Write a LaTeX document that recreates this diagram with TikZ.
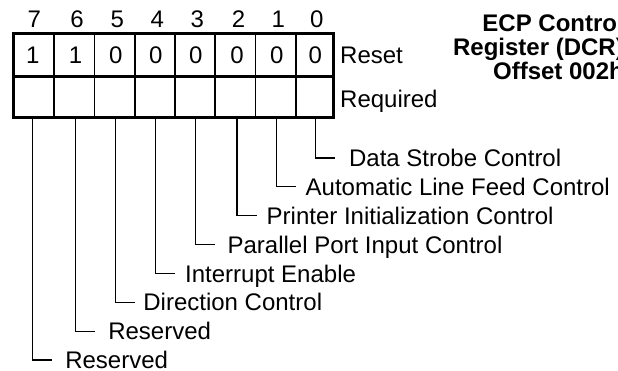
\documentclass[tikz,border=0pt]{standalone}
\usepackage{fontspec}
\setmainfont{Liberation Sans}
\begin{document}
\begin{tikzpicture}[x=1pt,y=-1pt,
  txt/.style={inner sep=0pt, font=\fontsize{24}{24}\selectfont},
  ttl/.style={inner sep=0pt, anchor=base east, font=\fontsize{24}{24}\selectfont\bfseries},
  lbl/.style={txt, anchor=west, text height=17.2pt, text depth=0pt},
  thinline/.style={line width=1.1pt},
  border/.style={line width=3pt}]
\useasboundingbox (0,0) rectangle (618,371);
\clip (0,0) rectangle (618,371);
% register box
\draw[thinline] (54,33.5) -- (54,118) (94.5,33.5) -- (94.5,118) (135,33.5) -- (135,118)
  (175,33.5) -- (175,118) (215,33.5) -- (215,118) (255.5,33.5) -- (255.5,118) (296,33.5) -- (296,118);
\draw[border] (13,33.5) rectangle (333.5,118);
\draw[border] (13,76.5) -- (333.5,76.5);
% bit numbers, reset values, bottom coordinates
\foreach \i/\x/\v in {7/32.7/1,6/75.5/1,5/115.7/0,4/155.7/0,3/195.7/0,2/237/0,1/276.7/0,0/315.3/0}{
  \node[txt, anchor=base] (b\i) at (\x+1.5,27.5) {\i};
  \node[txt, anchor=base] (v\i) at (\x,63.5) {\v};
  \coordinate (c\i) at (\x,118);
}
\node[txt, anchor=base west] (reset) at (340,63.5) {Reset};
\node[txt, anchor=base west] (req) at (340,107.5) {Required};
% title
\node[ttl] (t1) at (624,32) {ECP Control};
\node[ttl] (t2) at (624,56) {Register (DCR)};
\node[ttl] (t3) at (624,80) {Offset 002h};
% field labels and connectors
\foreach \i/\x/\lx/\y/\t in {
  0/315.3/348.9/158/Data Strobe Control,
  1/276.7/305.5/186.9/Automatic Line Feed Control,
  2/237/266.5/215.7/Printer Initialization Control,
  3/195.7/227.4/244.6/Parallel Port Input Control,
  4/155.7/185/273.4/Interrupt Enable,
  5/115.7/143.2/302.3/Direction Control,
  6/75.5/108.1/331.2/Reserved,
  7/32.7/65.1/360/Reserved}{
  \node[lbl] (l\i) at (\lx,\y) {\t};
  \coordinate (s\i) at (\x+19.5,\y);
  \draw[thinline] (c\i) |- (s\i);
}
\end{tikzpicture}
\end{document}
